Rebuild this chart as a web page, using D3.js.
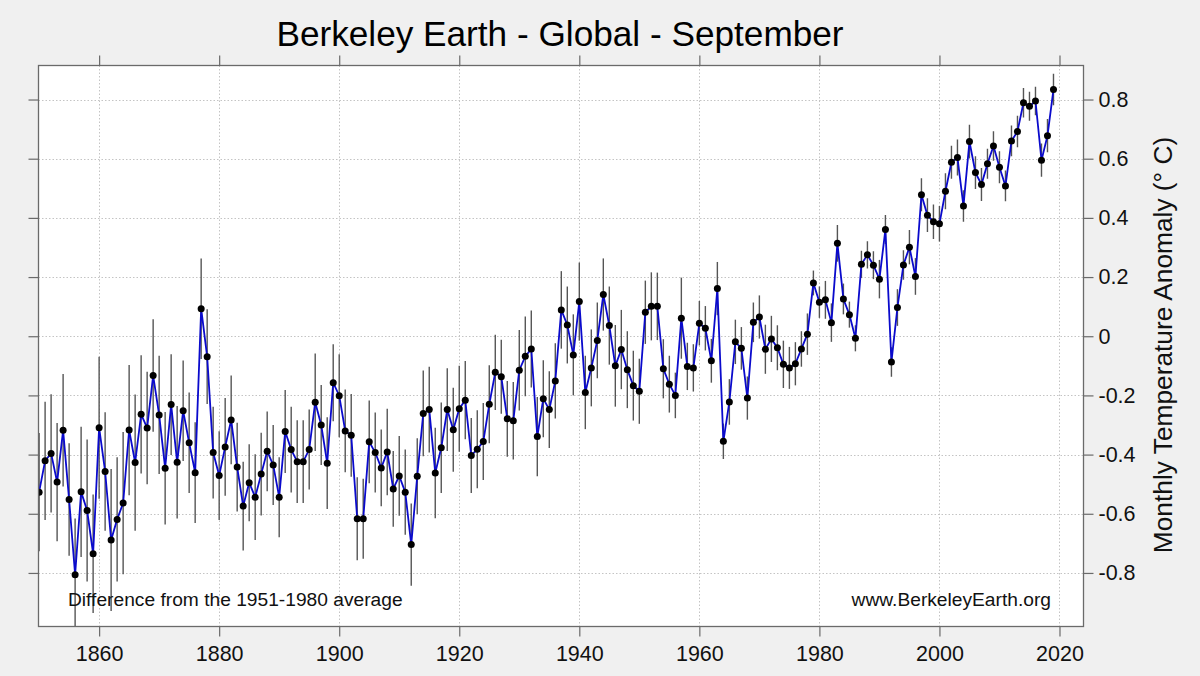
<!DOCTYPE html>
<html>
<head>
<meta charset="utf-8">
<script src="https://cdn.jsdelivr.net/npm/d3@7"></script>
<style>
  html, body { margin: 0; padding: 0; background: #f0f0f0; }
  svg { display: block; font-family: "Liberation Sans", Arial, sans-serif; }
</style>
</head>
<body>
<svg id="chart" width="1200" height="676"></svg>
<script>
// ---- data ----
const startYear = 1850;
const anomaly = [
  -0.527,-0.421,-0.396,-0.493,-0.318,-0.552,-0.806,-0.526,-0.589,-0.735,
  -0.309,-0.457,-0.689,-0.619,-0.564,-0.317,-0.427,-0.264,-0.310,-0.133,
  -0.266,-0.446,-0.231,-0.426,-0.252,-0.360,-0.461, 0.093,-0.069,-0.393,
  -0.471,-0.374,-0.283,-0.442,-0.574,-0.495,-0.544,-0.466,-0.389,-0.435,
  -0.544,-0.322,-0.383,-0.424,-0.424,-0.383,-0.223,-0.300,-0.429,-0.157,
  -0.201,-0.320,-0.335,-0.617,-0.617,-0.357,-0.393,-0.445,-0.391,-0.516,
  -0.472,-0.527,-0.704,-0.473,-0.261,-0.248,-0.462,-0.377,-0.248,-0.316,
  -0.245,-0.216,-0.403,-0.382,-0.356,-0.230,-0.122,-0.137,-0.279,-0.286,
  -0.115,-0.068,-0.043,-0.339,-0.211,-0.248,-0.151, 0.089, 0.038,-0.063,
   0.117,-0.190,-0.107,-0.014, 0.141, 0.036,-0.100,-0.045,-0.113,-0.167,
  -0.186, 0.081, 0.101, 0.101,-0.110,-0.162,-0.200, 0.061,-0.102,-0.107,
   0.044, 0.027,-0.083, 0.161,-0.355,-0.222,-0.019,-0.041,-0.209, 0.047,
   0.065,-0.044,-0.009,-0.039,-0.095,-0.107,-0.093,-0.043, 0.007, 0.180,
   0.115, 0.123, 0.046, 0.314, 0.126, 0.073,-0.007, 0.243, 0.275, 0.240,
   0.193, 0.361,-0.087, 0.097, 0.241, 0.301, 0.202, 0.478, 0.409, 0.387,
   0.380, 0.490, 0.588, 0.604, 0.440, 0.658, 0.553, 0.513, 0.583, 0.643,
   0.571, 0.508, 0.660, 0.692, 0.789, 0.777, 0.795, 0.595, 0.678, 0.834
];
const uncertainty = [
  0.20,0.20,0.20,0.20,0.19,0.19,0.19,0.22,0.24,0.20,
  0.24,0.20,0.24,0.21,0.24,0.22,0.23,0.20,0.19,0.19,
  0.20,0.19,0.17,0.19,0.17,0.17,0.17,0.17,0.16,0.155,
  0.15,0.165,0.15,0.15,0.15,0.13,0.145,0.14,0.135,0.135,
  0.135,0.14,0.145,0.14,0.14,0.135,0.165,0.135,0.155,0.13,
  0.14,0.14,0.14,0.14,0.135,0.14,0.135,0.13,0.146,0.128,
  0.135,0.144,0.139,0.128,0.145,0.145,0.153,0.153,0.14,0.142,
  0.145,0.132,0.127,0.132,0.13,0.132,0.127,0.125,0.128,0.131,
  0.136,0.135,0.13,0.134,0.13,0.13,0.127,0.131,0.13,0.137,
  0.132,0.124,0.13,0.128,0.122,0.132,0.138,0.134,0.13,0.118,
  0.11,0.107,0.115,0.114,0.10,0.096,0.077,0.137,0.08,0.08,
  0.075,0.075,0.074,0.09,0.06,0.077,0.075,0.072,0.073,0.067,
  0.073,0.083,0.078,0.076,0.08,0.071,0.073,0.06,0.07,0.042,
  0.053,0.064,0.065,0.062,0.052,0.044,0.044,0.046,0.046,0.047,
  0.065,0.049,0.05,0.062,0.05,0.058,0.062,0.056,0.057,0.058,
  0.06,0.061,0.056,0.061,0.053,0.057,0.055,0.056,0.051,0.05,
  0.054,0.052,0.052,0.053,0.05,0.049,0.048,0.056,0.056,0.053
];
const years = anomaly.map((_, i) => startYear + i);
const xTicks = [1860, 1880, 1900, 1920, 1940, 1960, 1980, 2000, 2020];
const yTicks = [-0.8, -0.6, -0.4, -0.2, 0, 0.2, 0.4, 0.6, 0.8];
const yTickLabels = ["-0.8", "-0.6", "-0.4", "-0.2", "0", "0.2", "0.4", "0.6", "0.8"];
const titleText = "Berkeley Earth - Global - September";
const yAxisTitle = "Monthly Temperature Anomaly (\u00B0 C)";
const noteLeft = "Difference from the 1951-1980 average";
const noteRight = "www.BerkeleyEarth.org";

// ---- layout ----
const L = 38.5, R = 1083.5, T = 65.5, B = 626.5;
const svg = d3.select("#chart");
const x = d3.scaleLinear().domain([1849.9, 2024.0]).range([L, R]);
const y = d3.scaleLinear().domain([-0.981, 0.915]).range([B, T]);

svg.append("rect").attr("width", 1200).attr("height", 676).attr("fill", "#f0f0f0");
svg.append("rect").attr("x", L).attr("y", T).attr("width", R - L).attr("height", B - T).attr("fill", "#ffffff");

svg.append("defs").append("clipPath").attr("id", "plotclip")
  .append("rect").attr("x", L).attr("y", T).attr("width", R - L).attr("height", B - T);

// grid
const grid = svg.append("g").attr("stroke", "#c4c4c4").attr("stroke-width", 1).attr("stroke-dasharray", "1.5,2");
grid.selectAll("line.v").data(xTicks).join("line").attr("class", "v")
  .attr("x1", d => Math.round(x(d)) + 0.5).attr("x2", d => Math.round(x(d)) + 0.5)
  .attr("y1", T).attr("y2", B);
grid.selectAll("line.h").data(yTicks).join("line").attr("class", "h")
  .attr("y1", d => Math.round(y(d)) + 0.5).attr("y2", d => Math.round(y(d)) + 0.5)
  .attr("x1", L).attr("x2", R);

// data
const data = years.map((yr, i) => ({ yr, v: anomaly[i], u: uncertainty[i] }));
const plot = svg.append("g").attr("clip-path", "url(#plotclip)");
plot.selectAll("line.err").data(data).join("line").attr("class", "err")
  .attr("x1", d => x(d.yr)).attr("x2", d => x(d.yr))
  .attr("y1", d => y(d.v - d.u)).attr("y2", d => y(d.v + d.u))
  .attr("stroke", "#555555").attr("stroke-width", 1.4);
plot.append("path").datum(data)
  .attr("d", d3.line().x(d => x(d.yr)).y(d => y(d.v)))
  .attr("fill", "none").attr("stroke", "#0a0acc").attr("stroke-width", 1.8);
plot.selectAll("circle").data(data).join("circle")
  .attr("cx", d => x(d.yr)).attr("cy", d => y(d.v)).attr("r", 3.5).attr("fill", "#000");

// axes (ticks outward on all sides)
const axisColor = "#6a6a6a";
const fontSize = 21.5;
const bottomAxis = d3.axisBottom(x).tickValues(xTicks).tickFormat(d3.format("d")).tickSize(10).tickPadding(5);
const gB = svg.append("g").attr("transform", `translate(0,${B})`).call(bottomAxis);
const topAxis = d3.axisTop(x).tickValues(xTicks).tickFormat("").tickSize(10);
const gT = svg.append("g").attr("transform", `translate(0,${T})`).call(topAxis);
const rightAxis = d3.axisRight(y).tickValues(yTicks).tickFormat((d, i) => yTickLabels[i]).tickSize(10).tickPadding(5);
const gR = svg.append("g").attr("transform", `translate(${R},0)`).call(rightAxis);
const leftAxis = d3.axisLeft(y).tickValues(yTicks).tickFormat("").tickSize(10);
const gL = svg.append("g").attr("transform", `translate(${L},0)`).call(leftAxis);
[gB, gT, gR, gL].forEach(g => {
  g.select(".domain").remove();
  g.selectAll(".tick line").attr("stroke", axisColor).attr("stroke-width", 1.2);
  g.selectAll(".tick text").attr("fill", "#111").attr("font-size", fontSize)
    .attr("font-family", "'Liberation Sans', Arial, sans-serif");
});
gB.selectAll(".tick text").attr("dy", "0.9em");

// frame
svg.append("rect").attr("x", L).attr("y", T).attr("width", R - L).attr("height", B - T)
  .attr("fill", "none").attr("stroke", axisColor).attr("stroke-width", 1.3);

// texts
svg.append("text").attr("x", 560).attr("y", 46).attr("text-anchor", "middle")
  .attr("font-size", 35.2).attr("fill", "#000").text(titleText);
svg.append("text").attr("transform", "translate(1172,345) rotate(-90)").attr("text-anchor", "middle")
  .attr("font-size", 26.3).attr("fill", "#111").text(yAxisTitle);
svg.append("text").attr("x", 68).attr("y", 606).attr("font-size", 19.2).attr("fill", "#111").text(noteLeft);
svg.append("text").attr("x", 1051).attr("y", 606).attr("text-anchor", "end")
  .attr("font-size", 19.2).attr("fill", "#111").text(noteRight);
</script>
</body>
</html>
